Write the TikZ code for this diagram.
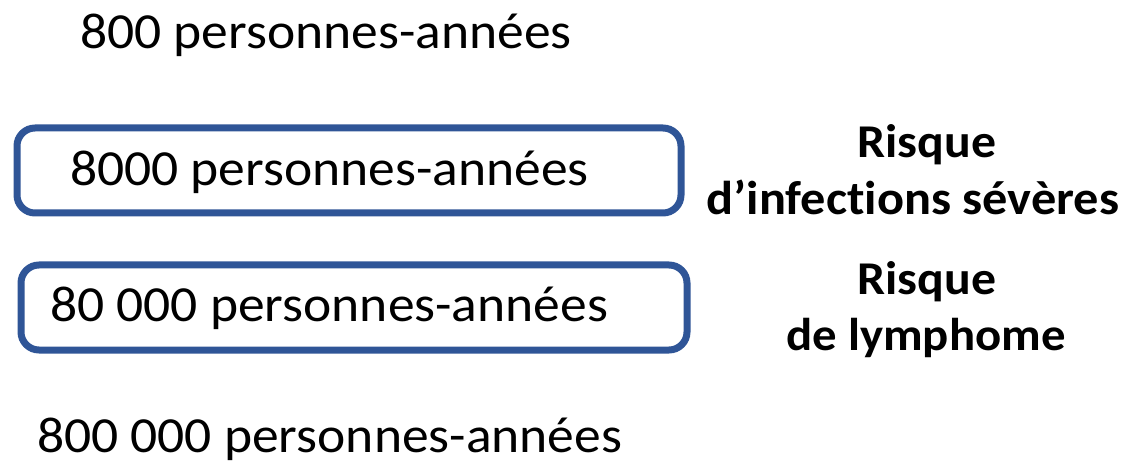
\documentclass[tikz,border=0pt]{standalone}
\usepackage{fontspec}
\setmainfont[Ligatures=NoCommon, FakeStretch=1.06]{Carlito}
\definecolor{frameblue}{RGB}{47,85,151}
\begin{document}
\begin{tikzpicture}[x=1pt,y=-1pt,
  count/.style={font=\fontsize{50.5}{56}\selectfont, anchor=base west, inner sep=0pt},
  risk/.style={font=\fontsize{47}{56}\bfseries\selectfont, anchor=base, inner sep=0pt},
  frame/.style={draw=frameblue, line width=7pt, rounded corners=18pt}]
\useasboundingbox (0,0) rectangle (1127,462);
\node[frame, minimum width=664pt, minimum height=85pt, anchor=north west] (b1) at (13.5,124.5) {};
\node[frame, minimum width=666pt, minimum height=85pt, anchor=north west] (b2) at (17.5,261.5) {};
\node[count] (t1) at (80,49) {800 personnes-années};
\node[count] (t2) at (70,186) {8000 personnes-années};
\node[count] (t3) at (50,322) {80 000 personnes-années};
\node[count] (t4) at (37,452) {800 000 personnes-années};
\node[risk] (r1) at (927,158) {Risque};
\node[risk, font=\fontsize{47.5}{56}\bfseries\selectfont] (r2) at (913,215) {d’infections sévères};
\node[risk] (r3) at (927,295) {Risque};
\node[risk, font=\fontsize{46}{56}\bfseries\selectfont] (r4) at (926,350) {de lymphome};
\end{tikzpicture}
\end{document}
